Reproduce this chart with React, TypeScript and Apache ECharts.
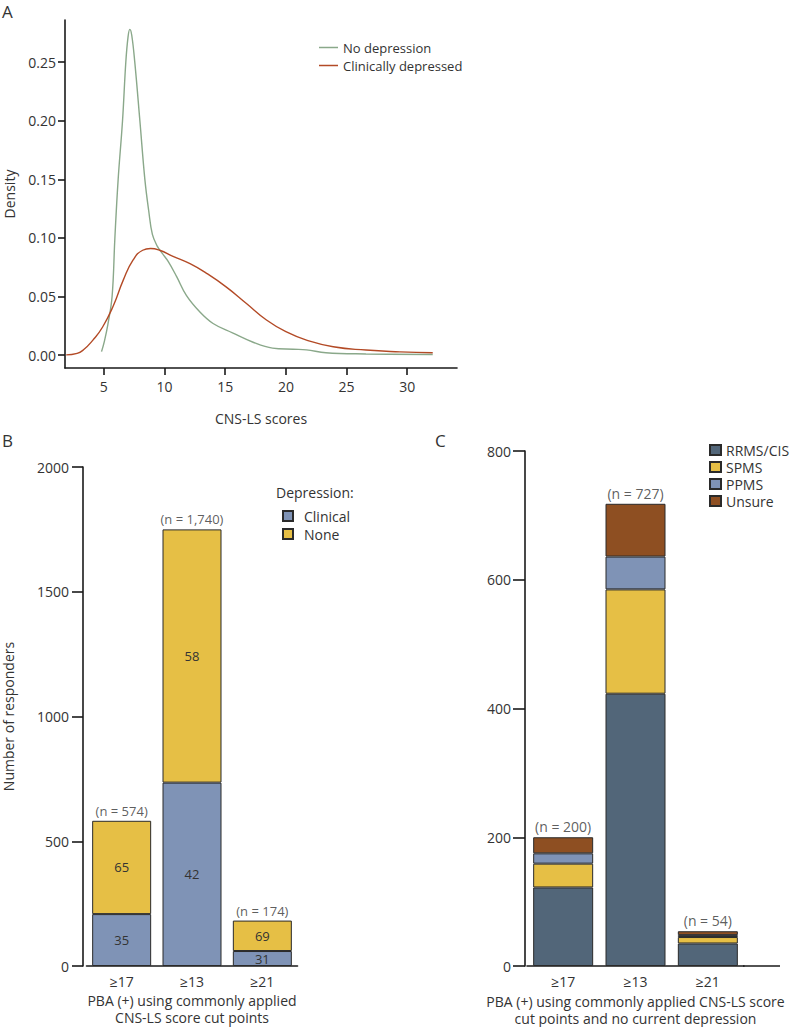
import React, { useEffect, useRef } from "react";
import * as echarts from "echarts";

// Panel A: density curves
const noDepX = [4.81, 5.05, 5.33, 5.68, 5.91, 6.18, 6.54, 6.81, 7.0, 7.14, 7.3, 7.55, 7.97, 8.38, 8.7, 9.0, 9.4, 9.8, 10.3, 11.0, 11.8, 12.9, 14.0, 15.6, 17.3, 18.9, 20.6, 21.7, 23.3, 26.6, 32.1];
const noDepY = [0.003, 0.012, 0.026, 0.05, 0.1, 0.15, 0.2, 0.25, 0.272, 0.278, 0.273, 0.25, 0.2, 0.15, 0.123, 0.103, 0.093, 0.087, 0.08, 0.067, 0.051, 0.037, 0.027, 0.019, 0.011, 0.006, 0.005, 0.0045, 0.002, 0.001, 0.0005];
const clinX = [1.9, 2.8, 3.3, 4.1, 4.9, 5.8, 6.6, 7.4, 8.2, 8.85, 9.6, 10.7, 12.1, 13.5, 15.1, 16.75, 18.4, 20.0, 21.7, 23.9, 26.6, 29.4, 32.1];
const clinY = [0.0002, 0.0015, 0.0043, 0.0128, 0.024, 0.0426, 0.064, 0.081, 0.0895, 0.091, 0.0895, 0.0843, 0.078, 0.0696, 0.058, 0.044, 0.03, 0.02, 0.0128, 0.0071, 0.0043, 0.0028, 0.002];
const densityTicksX = [5, 10, 15, 20, 25, 30];
const densityTicksY = [0, 0.05, 0.1, 0.15, 0.2, 0.25];

// Panel B
const catsB = ["≥17", "≥13", "≥21"];
const clinicalB = [208, 735, 60];
const noneB = [374, 1015, 122];
const clinicalPctB = [35, 42, 31];
const nonePctB = [65, 58, 69];
const nLabelsB = ["(n = 574)", "(n = 1,740)", "(n = 174)"];

// Panel C
const catsC = ["≥17", "≥13", "≥21"];
const rrmsC = [122, 423, 35];
const spmsC = [37, 162, 10];
const ppmsC = [16, 51, 3];
const unsureC = [25, 82, 6];
const nLabelsC = ["(n = 200)", "(n = 727)", "(n = 54)"];

const FONT = "Open Sans";
const TXT = "#333333";
const AX = "#1a1a1a";
const GREEN = "#8aa88a";
const RED = "#b34a26";
const BLUE = "#7f93b6";
const YELLOW = "#e6bf45";
const SLATE = "#526679";
const BROWN = "#8e4f22";

export default function App() {
  const ref = useRef<HTMLDivElement>(null);
  useEffect(() => {
    if (!ref.current) return;
    const chart = echarts.init(ref.current, null, { renderer: "svg" });
    const axisLine = { show: true, onZero: false, lineStyle: { color: AX, width: 1.6 } };
    const lbl = (size: number, margin: number) => ({ color: TXT, fontFamily: FONT, fontSize: size, margin });
    const nameStyle = { color: TXT, fontFamily: FONT, fontSize: 14, lineHeight: 17 };
    const barItem = (c: string) => ({ color: c, borderColor: "#2a2a2a", borderWidth: 1 });

    const option: any = {
      animation: false,
      textStyle: { fontFamily: FONT },
      grid: [
        { left: 65, top: 20, width: 392, height: 348, outerBoundsMode: "none", containLabel: false },
        { left: 86.5, top: 467, width: 211, height: 499, outerBoundsMode: "none", containLabel: false },
        { left: 527, top: 451, width: 217, height: 515, outerBoundsMode: "none", containLabel: false },
      ],
      xAxis: [
        {
          gridIndex: 0, type: "value", min: 1.8, max: 34.1,
          axisLine, splitLine: { show: false },
          axisTick: { show: true, length: 7, lineStyle: { color: AX, width: 1.6 }, customValues: densityTicksX },
          axisLabel: { ...lbl(14, 11), customValues: densityTicksX },
          name: "CNS-LS scores", nameLocation: "middle", nameGap: 42, nameTextStyle: nameStyle,
        },
        {
          gridIndex: 1, type: "category", data: catsB,
          axisLine, splitLine: { show: false }, axisTick: { show: false },
          axisLabel: lbl(14, 8),
          name: "PBA (+) using commonly applied\nCNS-LS score cut points", nameLocation: "middle", nameGap: 26, nameTextStyle: nameStyle,
        },
        {
          gridIndex: 2, type: "category", data: catsC,
          axisLine, splitLine: { show: false }, axisTick: { show: false },
          axisLabel: lbl(14, 8),
          name: "PBA (+) using commonly applied CNS-LS score\ncut points and no current depression", nameLocation: "middle", nameGap: 26,
          nameTextStyle: nameStyle,
        },
      ],
      yAxis: [
        {
          gridIndex: 0, type: "value", min: -0.011, max: 0.286,
          axisLine, splitLine: { show: false },
          axisTick: { show: true, length: 7, lineStyle: { color: AX, width: 1.6 }, customValues: densityTicksY },
          axisLabel: { ...lbl(14, 9), customValues: densityTicksY, formatter: (v: number) => v.toFixed(2) },
          name: "Density", nameLocation: "middle", nameGap: 47, nameRotate: 90, nameTextStyle: nameStyle,
        },
        {
          gridIndex: 1, type: "value", min: 0, max: 2000, interval: 500, offset: 3.5,
          axisLine, splitLine: { show: false },
          axisTick: { show: true, length: 11, lineStyle: { color: AX, width: 1.6 } },
          axisLabel: { ...lbl(14, 14), formatter: (v: number) => String(v) },
          name: "Number of responders", nameLocation: "middle", nameGap: 66, nameRotate: 90, nameTextStyle: nameStyle,
        },
        {
          gridIndex: 2, type: "value", min: 0, max: 800, interval: 200, offset: 2,
          axisLine, splitLine: { show: false },
          axisTick: { show: true, length: 12, lineStyle: { color: AX, width: 1.6 } },
          axisLabel: { ...lbl(14, 14), formatter: (v: number) => String(v) },
        },
      ],
      legend: [
        {
          data: ["No depression", "Clinically depressed"], orient: "vertical", icon: "rect",
          left: 314, top: 36, itemWidth: 19, itemHeight: 1.5, itemGap: 5,
          textStyle: { color: TXT, fontFamily: FONT, fontSize: 13 },
        },
        {
          data: ["Clinical", "None"], orient: "vertical", icon: "rect",
          left: 277, top: 504, itemWidth: 10, itemHeight: 10, itemGap: 4,
          textStyle: { color: TXT, fontFamily: FONT, fontSize: 14, padding: [0, 0, 0, 6] },
        },
        {
          data: ["RRMS/CIS", "SPMS", "PPMS", "Unsure"], orient: "vertical", icon: "rect",
          left: 704, top: 438, itemWidth: 11, itemHeight: 10, itemGap: 3,
          textStyle: { color: TXT, fontFamily: FONT, fontSize: 14 },
        },
      ],
      graphic: [
        { type: "text", left: 2, top: 3, style: { text: "A", fontSize: 17, fontFamily: FONT, fill: TXT } },
        { type: "text", left: 2, top: 432, style: { text: "B", fontSize: 17, fontFamily: FONT, fill: TXT } },
        { type: "text", left: 435, top: 432, style: { text: "C", fontSize: 17, fontFamily: FONT, fill: TXT } },
        { type: "text", left: 276, top: 485, style: { text: "Depression:", fontSize: 14, fontFamily: FONT, fill: TXT } },
        { type: "line", shape: { x1: 743, y1: 966, x2: 780, y2: 966 }, style: { stroke: AX, lineWidth: 1.6 } },
      ],
      series: [
        {
          name: "No depression", type: "line", xAxisIndex: 0, yAxisIndex: 0,
          data: noDepX.map((x, i) => [x, noDepY[i]]), symbol: "none", smooth: 0.4,
          lineStyle: { color: GREEN, width: 1.4 }, itemStyle: { color: GREEN },
        },
        {
          name: "Clinically depressed", type: "line", xAxisIndex: 0, yAxisIndex: 0,
          data: clinX.map((x, i) => [x, clinY[i]]), symbol: "none", smooth: 0.5,
          lineStyle: { color: RED, width: 1.4 }, itemStyle: { color: RED },
        },
        {
          name: "Clinical", type: "bar", stack: "b", xAxisIndex: 1, yAxisIndex: 1, barWidth: 59,
          data: clinicalB, itemStyle: barItem(BLUE),
          label: { show: true, position: "inside", color: TXT, fontSize: 13, fontFamily: FONT, formatter: (p: any) => String(clinicalPctB[p.dataIndex]) },
        },
        {
          name: "None", type: "bar", stack: "b", xAxisIndex: 1, yAxisIndex: 1, barWidth: 59,
          data: noneB, itemStyle: barItem(YELLOW),
          label: { show: true, position: "inside", color: TXT, fontSize: 13, fontFamily: FONT, formatter: (p: any) => String(nonePctB[p.dataIndex]) },
        },
        {
          name: "nB", type: "scatter", xAxisIndex: 1, yAxisIndex: 1, symbolSize: 1,
          itemStyle: { color: "rgba(0,0,0,0)" },
          data: clinicalB.map((v, i) => v + noneB[i]),
          label: { show: true, position: "top", distance: 3, color: TXT, fontSize: 13, fontFamily: FONT, formatter: (p: any) => nLabelsB[p.dataIndex] },
        },
        { name: "RRMS/CIS", type: "bar", stack: "c", xAxisIndex: 2, yAxisIndex: 2, barWidth: 60, data: rrmsC, itemStyle: barItem(SLATE) },
        { name: "SPMS", type: "bar", stack: "c", xAxisIndex: 2, yAxisIndex: 2, barWidth: 60, data: spmsC, itemStyle: barItem(YELLOW) },
        { name: "PPMS", type: "bar", stack: "c", xAxisIndex: 2, yAxisIndex: 2, barWidth: 60, data: ppmsC, itemStyle: barItem(BLUE) },
        { name: "Unsure", type: "bar", stack: "c", xAxisIndex: 2, yAxisIndex: 2, barWidth: 60, data: unsureC, itemStyle: barItem(BROWN) },
        {
          name: "nC", type: "scatter", xAxisIndex: 2, yAxisIndex: 2, symbolSize: 1,
          itemStyle: { color: "rgba(0,0,0,0)" },
          data: rrmsC.map((v, i) => v + spmsC[i] + ppmsC[i] + unsureC[i]),
          label: { show: true, position: "top", distance: 3, color: TXT, fontSize: 14, fontFamily: FONT, formatter: (p: any) => nLabelsC[p.dataIndex] },
        },
      ],
    };
    chart.setOption(option);
    return () => chart.dispose();
  }, []);
  return <div ref={ref} style={{ position: "absolute", left: 0, top: 0, width: 791, height: 1027, background: "#fff" }} />;
}
